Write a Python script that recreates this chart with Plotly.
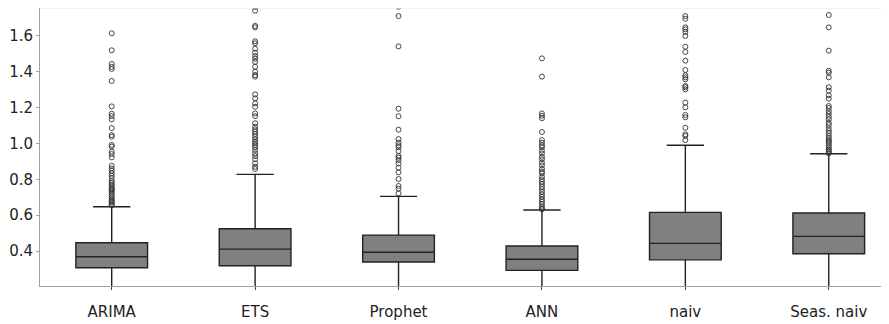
import plotly.graph_objects as go

categories = ["ARIMA", "ETS", "Prophet", "ANN", "naiv", "Seas. naiv"]

q1 = [0.307, 0.318, 0.339, 0.292, 0.351, 0.385]
median = [0.368, 0.411, 0.393, 0.354, 0.443, 0.482]
q3 = [0.446, 0.524, 0.489, 0.428, 0.616, 0.612]
lower_fence = [0.10, 0.08, 0.12, 0.09, 0.05, 0.10]
upper_fence = [0.647, 0.828, 0.705, 0.629, 0.990, 0.943]

outliers_arima = [1.615, 1.520, 1.444, 1.428, 1.416, 1.349, 1.207, 1.166, 1.153, 1.135,
                  1.086, 1.047, 1.038, 0.992, 0.983, 0.954, 0.941, 0.923, 0.876, 0.861,
                  0.848, 0.834, 0.820, 0.806, 0.79, 0.78, 0.77, 0.76, 0.75, 0.745, 0.74,
                  0.73, 0.72, 0.71, 0.70, 0.69, 0.68, 0.675, 0.67, 0.66, 0.655]
outliers_ets = [1.762, 1.741, 1.656, 1.648, 1.570, 1.559, 1.529, 1.507, 1.488, 1.473,
                1.456, 1.428, 1.401, 1.382, 1.373, 1.274, 1.252, 1.224, 1.205, 1.168,
                1.153, 1.113, 1.094, 1.079, 1.066, 1.053, 1.038, 1.023, 1.010, 1.001,
                0.990, 0.979, 0.964, 0.945, 0.930, 0.912, 0.889, 0.870, 0.858]
outliers_prophet = [1.763, 1.711, 1.542, 1.194, 1.152, 1.077, 1.025, 1.004, 0.990, 0.979,
                    0.958, 0.930, 0.921, 0.908, 0.889, 0.865, 0.839, 0.802, 0.763, 0.748,
                    0.722]
outliers_ann = [1.475, 1.373, 1.168, 1.155, 1.141, 1.064, 1.019, 1.004, 0.990, 0.979,
                0.960, 0.945, 0.926, 0.912, 0.893, 0.878, 0.858, 0.843, 0.834, 0.815,
                0.800, 0.787, 0.774, 0.759, 0.746, 0.731, 0.716, 0.703, 0.688, 0.675,
                0.662, 0.647, 0.638, 0.633]
outliers_naiv = [1.711, 1.696, 1.648, 1.637, 1.622, 1.600, 1.540, 1.511, 1.462, 1.410,
                 1.380, 1.369, 1.358, 1.321, 1.314, 1.302, 1.228, 1.202, 1.159, 1.146,
                 1.088, 1.051, 1.042, 1.019]
outliers_seas = [1.717, 1.648, 1.518, 1.406, 1.395, 1.369, 1.314, 1.295, 1.269, 1.250,
                 1.209, 1.198, 1.180, 1.165, 1.149, 1.135, 1.116, 1.103, 1.085, 1.070,
                 1.057, 1.042, 1.029, 1.019, 1.010, 1.001, 0.990, 0.979, 0.968, 0.960,
                 0.952, 0.945]
outliers = [outliers_arima, outliers_ets, outliers_prophet, outliers_ann,
            outliers_naiv, outliers_seas]

y_ticks = [0.4, 0.6, 0.8, 1.0, 1.2, 1.4, 1.6]

fig = go.Figure()
fig.add_trace(go.Box(
    x=categories, q1=q1, median=median, q3=q3,
    lowerfence=lower_fence, upperfence=upper_fence,
    width=0.5,
    fillcolor="#808080", line=dict(color="#222222", width=1.4),
    whiskerwidth=0.52, boxpoints=False, showlegend=False, hoverinfo="skip",
))
for cat, vals in zip(categories, outliers):
    fig.add_trace(go.Scatter(
        x=[cat] * len(vals), y=vals, mode="markers",
        marker=dict(symbol="circle-open", size=5, color="#333333",
                    line=dict(width=0.9, color="#333333")),
        showlegend=False, hoverinfo="skip", cliponaxis=True,
    ))

fig.update_layout(
    width=881, height=316,
    margin=dict(l=32, r=0, t=0, b=38, autoexpand=False),
    paper_bgcolor="white", plot_bgcolor="white",
    font=dict(family="DejaVu Sans", size=15, color="#222222"),
    shapes=[dict(type="line", xref="paper", yref="paper", x0=0, x1=1, y0=1, y1=1,
                 line=dict(color="#e6e6e6", width=1))],
)
fig.update_xaxes(
    type="category", categoryorder="array", categoryarray=categories,
    range=[-0.5, 5.42], showgrid=False, zeroline=False, automargin=False,
    showline=True, linecolor="#a0a0a0", linewidth=1,
    ticks="outside", ticklen=3, tickcolor="#444444", ticklabelstandoff=9,
    tickfont=dict(size=15, color="#222222"),
)
fig.update_yaxes(
    range=[0.205, 1.756], tickvals=y_ticks, ticktext=[f"{v:.1f}" for v in y_ticks],
    showgrid=False, zeroline=False, automargin=False,
    showline=True, linecolor="#a0a0a0", linewidth=1,
    ticks="outside", ticklen=3, tickcolor="#a0a0a0",
    tickfont=dict(size=15, color="#222222"),
)

fig.write_html("out.html")
